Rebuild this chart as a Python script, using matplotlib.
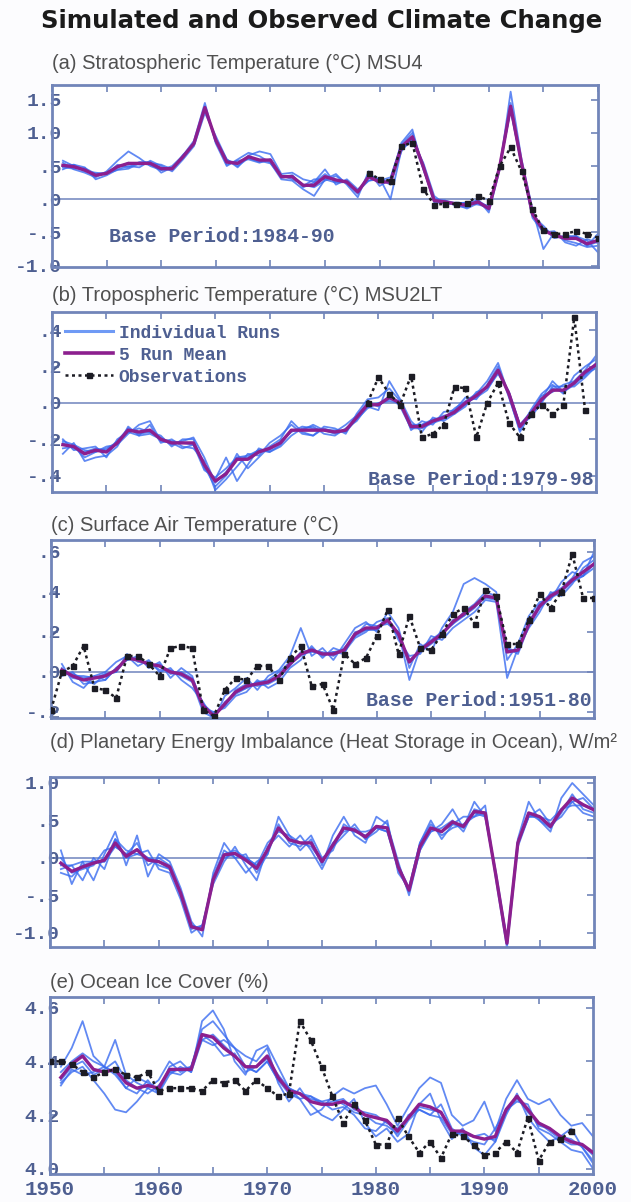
import numpy as np
import matplotlib
matplotlib.use("Agg")
import matplotlib.pyplot as plt
from matplotlib.lines import Line2D

# ---- model runs / mean start in 1951, observations carry their own start year ----
RUN_START = 1951

# (a) stratospheric temperature, MSU4
A_RUNS = [
    [.55, .45, .40, .33, .42, .58, .72, .62, .50, .44, .50, .66, .88, 1.45, .84, .50, .60, .70, .65, .55, .30, .28, .15, .05, .30, .38, .22, .03, .42, .20, .30, .85, 1.05, .45, .00, -.02, -.10, -.12, .00, -.20, .45, 1.62, .60, -.15, -.75, -.50, -.62, -.66, -.72, -.70],
    [.45, .52, .48, .30, .36, .45, .50, .48, .58, .50, .42, .60, .80, 1.30, .95, .60, .48, .66, .72, .68, .38, .40, .30, .26, .45, .22, .30, .15, .28, .32, .00, .75, .88, .55, .05, -.08, -.05, -.06, -.08, -.12, .52, 1.45, .50, -.25, -.40, -.58, -.55, -.56, -.62, -.80],
    [.58, .50, .42, .40, .38, .52, .48, .56, .56, .40, .48, .62, .86, 1.36, .90, .52, .58, .60, .55, .60, .36, .30, .22, .18, .28, .35, .24, .08, .38, .28, .33, .82, 1.00, .48, -.05, -.06, -.08, -.14, -.06, -.10, .50, 1.35, .52, -.28, -.50, -.48, -.65, -.70, -.60, -.66],
    [.48, .46, .47, .38, .40, .48, .55, .52, .54, .52, .45, .65, .84, 1.40, .86, .58, .55, .62, .56, .60, .32, .36, .18, .25, .38, .26, .28, .12, .35, .30, .22, .80, .90, .46, -.03, -.02, -.06, -.08, -.05, -.16, .48, 1.38, .55, -.20, -.45, -.56, -.58, -.55, -.70, -.64],
    [.50, .52, .43, .37, .39, .44, .46, .54, .52, .44, .45, .67, .82, 1.38, .90, .60, .50, .62, .58, .54, .34, .36, .20, .30, .30, .25, .26, .12, .28, .30, .25, .72, .95, .52, -.02, -.05, -.06, -.05, -.02, -.12, .50, 1.35, .52, -.22, -.45, -.58, -.56, -.57, -.70, -.52],
]
A_MEAN = [.51, .49, .44, .36, .39, .49, .54, .54, .54, .46, .46, .64, .84, 1.38, .89, .56, .54, .64, .59, .59, .34, .34, .21, .21, .34, .29, .26, .11, .34, .26, .26, .79, .94, .49, -.02, -.04, -.07, -.09, -.04, -.14, .49, 1.40, .54, -.22, -.47, -.54, -.59, -.59, -.67, -.62]
A_OBS_START = 1979
A_OBS = [.40, .30, .28, .80, .85, .15, -.08, -.07, -.07, -.06, .05, -.02, .50, .78, .42, -.15, -.47, -.52, -.52, -.48, -.52, -.58]

# (b) tropospheric temperature, MSU2LT
B_RUNS = [
    [-.28, -.22, -.32, -.30, -.29, -.24, -.13, -.18, -.12, -.22, -.20, -.24, -.25, -.32, -.48, -.42, -.35, -.28, -.29, -.22, -.18, -.12, -.17, -.18, -.13, -.14, -.17, -.06, .02, .03, .08, .01, -.15, -.10, -.12, -.05, -.04, .03, .02, .10, .20, .03, -.15, -.04, .05, .10, .05, .15, .20, .24],
    [-.20, -.26, -.25, -.24, -.30, -.20, -.16, -.14, -.16, -.18, -.24, -.20, -.20, -.36, -.42, -.30, -.43, -.34, -.25, -.27, -.24, -.18, -.14, -.13, -.17, -.18, -.14, -.10, -.02, -.04, .12, .02, -.10, -.16, -.08, -.10, -.06, -.02, .06, .08, .16, .06, -.12, -.08, .00, .09, .09, .09, .14, .20],
    [-.25, -.24, -.30, -.27, -.24, -.23, -.17, -.12, -.10, -.21, -.22, -.25, -.23, -.35, -.46, -.40, -.28, -.36, -.30, -.24, -.20, -.10, -.16, -.18, -.14, -.16, -.12, -.07, .00, -.02, .04, -.02, -.14, -.14, -.11, -.09, -.03, .01, .05, .12, .22, .04, -.16, -.06, .04, .06, .10, .12, .18, .26],
    [-.22, -.25, -.27, -.25, -.26, -.21, -.14, -.17, -.16, -.19, -.23, -.21, -.19, -.30, -.44, -.38, -.30, -.29, -.26, -.26, -.21, -.16, -.13, -.14, -.15, -.15, -.16, -.09, -.03, .00, .01, .00, -.12, -.12, -.10, -.07, -.06, .00, .03, .07, .17, .06, -.12, -.05, .02, .12, .06, .10, .16, .19],
    [-.21, -.23, -.26, -.27, -.25, -.22, -.16, -.18, -.17, -.20, -.21, -.22, -.23, -.37, -.41, -.36, -.30, -.30, -.26, -.27, -.23, -.15, -.15, -.12, -.15, -.17, -.15, -.08, -.01, -.01, .02, .01, -.13, -.12, -.09, -.08, -.05, -.01, .04, .09, .17, .05, -.12, -.07, .01, .08, .06, .11, .15, .22],
]
B_MEAN = [-.23, -.24, -.28, -.26, -.27, -.22, -.15, -.16, -.15, -.20, -.22, -.22, -.22, -.34, -.43, -.39, -.31, -.31, -.27, -.25, -.22, -.15, -.15, -.15, -.15, -.16, -.15, -.08, -.01, -.01, .03, .00, -.13, -.13, -.10, -.08, -.05, .00, .04, .09, .18, .05, -.13, -.06, .02, .07, .07, .11, .17, .21]
B_OBS_START = 1979
B_OBS = [.00, .14, .05, -.01, .15, -.19, -.17, -.12, .09, .08, -.19, .00, .11, -.11, -.19, -.06, -.01, -.06, -.01, .47, -.04]

# (c) surface air temperature
C_RUNS = [
    [.04, -.05, -.08, -.02, .00, .05, .08, .03, .06, .00, .02, -.04, -.08, -.15, -.24, -.12, -.08, -.03, -.09, -.02, .01, .08, .22, .08, .12, .06, .14, .22, .25, .20, .30, .22, .02, .14, .10, .22, .30, .44, .47, .44, .40, .06, .14, .28, .35, .36, .45, .50, .48, .60],
    [-.02, .00, -.06, -.05, -.04, .02, .06, .08, .02, .05, -.03, .02, -.02, -.18, -.20, -.18, -.12, -.10, -.04, -.08, -.05, .02, .06, .13, .07, .12, .10, .17, .20, .25, .27, .16, .08, .09, .18, .16, .22, .26, .30, .36, .35, -.03, .12, .22, .30, .40, .38, .44, .52, .56],
    [.02, -.03, -.04, -.06, -.01, .00, .09, .05, .05, .01, .01, -.02, -.05, -.20, -.23, -.15, -.11, -.08, -.05, -.04, .00, .05, .09, .10, .10, .08, .12, .18, .24, .23, .24, .20, -.04, .12, .16, .20, .24, .30, .34, .40, .38, .12, .10, .25, .34, .39, .42, .47, .55, .58],
    [.00, -.01, -.03, -.02, -.04, .02, .06, .07, .03, .04, -.01, .00, -.03, -.16, -.21, -.17, -.09, -.06, -.07, -.06, -.03, .04, .08, .12, .08, .10, .09, .20, .21, .22, .25, .18, .06, .10, .14, .18, .26, .28, .33, .37, .36, .12, .09, .23, .32, .37, .40, .45, .48, .52],
    [.01, -.02, -.02, -.03, -.01, .00, .07, .06, .04, .03, .00, -.01, -.04, -.16, -.22, -.16, -.10, -.08, -.05, -.05, -.02, .03, .10, .11, .09, .10, .11, .18, .21, .21, .26, .19, .05, .11, .15, .19, .24, .28, .32, .38, .37, .10, .11, .24, .33, .38, .41, .46, .48, .54],
]
C_MEAN = [.01, -.02, -.04, -.03, -.02, .01, .07, .06, .04, .03, .00, -.01, -.04, -.17, -.22, -.16, -.10, -.07, -.06, -.05, -.02, .04, .09, .11, .09, .09, .11, .19, .22, .22, .26, .19, .05, .11, .15, .19, .25, .29, .33, .38, .37, .10, .11, .24, .33, .38, .41, .46, .50, .54]
C_OBS_START = 1950
C_OBS = [-.19, .00, .03, .13, -.08, -.09, -.13, .08, .08, .04, -.02, .12, .13, .12, -.19, -.22, -.09, -.03, -.04, .03, .03, -.04, .07, .13, -.07, -.06, -.19, .09, .04, .07, .18, .31, .09, .28, .12, .11, .19, .29, .32, .24, .41, .38, .14, .14, .26, .39, .32, .40, .59, .37, .37]

# (d) planetary energy imbalance, W/m2
D_RUNS = [
    [.10, -.35, -.05, -.30, .05, .35, -.10, .30, -.25, .05, -.05, -.40, -.85, -1.05, -.20, .20, .00, -.20, -.05, .05, .55, .30, .10, .25, -.10, .30, .55, .30, .20, .55, .45, -.05, -.50, .10, .35, .45, .65, .40, .75, .55, -.20, -1.10, .25, .75, .50, .35, .80, 1.00, .85, .70],
    [-.15, -.10, -.30, .00, -.15, .25, .10, .05, .10, -.15, -.20, -.55, -1.00, -.90, -.35, -.05, .15, -.10, -.30, .15, .30, .15, .30, .10, -.15, .15, .30, .45, .25, .35, .50, -.20, -.40, .20, .50, .25, .45, .55, .55, .70, -.30, -1.20, .15, .55, .65, .45, .55, .75, .60, .55],
    [.00, -.20, -.15, -.10, .10, .15, .05, .20, -.10, .00, -.10, -.50, -.90, -.95, -.25, .10, .00, .05, -.20, .05, .45, .20, .15, .30, .00, .10, .45, .35, .35, .40, .35, -.15, -.45, .15, .35, .40, .50, .35, .65, .60, -.25, -1.15, .20, .55, .55, .50, .65, .75, .80, .65],
    [-.20, -.25, -.10, -.05, -.05, .25, .00, .05, .00, -.10, -.15, -.45, -.95, -.90, -.30, .05, .10, .00, -.10, .20, .35, .30, .20, .15, -.05, .20, .35, .40, .25, .40, .35, -.10, -.40, .20, .45, .30, .40, .45, .55, .60, -.25, -1.10, .20, .60, .50, .40, .60, .85, .65, .60],
    [-.10, -.10, -.05, -.05, -.05, .15, .05, .10, .00, -.05, -.15, -.45, -.90, -.95, -.30, .00, .05, .00, -.10, .10, .40, .25, .20, .20, -.05, .15, .40, .35, .30, .40, .40, -.10, -.45, .10, .40, .35, .45, .40, .60, .55, -.25, -1.15, .20, .55, .55, .40, .65, .70, .70, .65],
]
D_MEAN = [-.07, -.18, -.12, -.07, -.03, .20, .02, .11, -.03, -.05, -.12, -.47, -.92, -.96, -.29, .04, .06, -.03, -.14, .11, .40, .24, .20, .20, -.05, .17, .40, .37, .28, .42, .40, -.12, -.43, .15, .40, .35, .48, .42, .62, .60, -.25, -1.14, .20, .60, .55, .42, .64, .80, .71, .64]

# (e) ocean ice cover, %
E_RUNS = [
    [4.38, 4.45, 4.55, 4.42, 4.38, 4.48, 4.35, 4.32, 4.30, 4.28, 4.38, 4.40, 4.36, 4.55, 4.59, 4.52, 4.40, 4.35, 4.44, 4.46, 4.38, 4.30, 4.26, 4.20, 4.22, 4.27, 4.30, 4.28, 4.30, 4.31, 4.24, 4.16, 4.23, 4.30, 4.34, 4.32, 4.20, 4.16, 4.18, 4.25, 4.14, 4.26, 4.33, 4.26, 4.24, 4.26, 4.20, 4.16, 4.17, 4.12],
    [4.32, 4.36, 4.38, 4.33, 4.28, 4.22, 4.21, 4.25, 4.30, 4.33, 4.40, 4.36, 4.38, 4.52, 4.55, 4.50, 4.45, 4.42, 4.40, 4.45, 4.32, 4.25, 4.30, 4.24, 4.20, 4.18, 4.22, 4.26, 4.17, 4.12, 4.15, 4.10, 4.13, 4.24, 4.28, 4.18, 4.11, 4.15, 4.08, 4.05, 4.10, 4.20, 4.28, 4.19, 4.14, 4.10, 4.12, 4.15, 4.08, 4.02],
    [4.36, 4.40, 4.43, 4.40, 4.38, 4.35, 4.30, 4.28, 4.33, 4.28, 4.35, 4.38, 4.36, 4.48, 4.46, 4.48, 4.45, 4.38, 4.36, 4.40, 4.33, 4.28, 4.26, 4.27, 4.25, 4.22, 4.23, 4.20, 4.15, 4.14, 4.18, 4.12, 4.18, 4.22, 4.20, 4.24, 4.15, 4.12, 4.10, 4.09, 4.15, 4.22, 4.25, 4.24, 4.15, 4.13, 4.10, 4.07, 4.06, 4.00],
    [4.33, 4.38, 4.40, 4.35, 4.37, 4.40, 4.33, 4.30, 4.28, 4.31, 4.36, 4.35, 4.38, 4.50, 4.47, 4.42, 4.43, 4.36, 4.38, 4.41, 4.35, 4.30, 4.28, 4.26, 4.25, 4.26, 4.24, 4.21, 4.20, 4.17, 4.16, 4.13, 4.20, 4.22, 4.20, 4.19, 4.13, 4.14, 4.12, 4.13, 4.10, 4.22, 4.27, 4.21, 4.17, 4.14, 4.11, 4.09, 4.09, 4.05],
    [4.31, 4.37, 4.35, 4.36, 4.38, 4.36, 4.30, 4.34, 4.32, 4.29, 4.36, 4.37, 4.38, 4.48, 4.50, 4.46, 4.42, 4.38, 4.36, 4.40, 4.33, 4.30, 4.28, 4.27, 4.24, 4.25, 4.26, 4.22, 4.21, 4.20, 4.17, 4.15, 4.19, 4.23, 4.22, 4.21, 4.14, 4.13, 4.12, 4.11, 4.11, 4.21, 4.26, 4.22, 4.16, 4.15, 4.12, 4.11, 4.08, 4.03],
]
E_MEAN = [4.34, 4.39, 4.42, 4.37, 4.36, 4.37, 4.32, 4.30, 4.31, 4.30, 4.37, 4.37, 4.37, 4.50, 4.49, 4.45, 4.42, 4.38, 4.38, 4.42, 4.34, 4.29, 4.28, 4.25, 4.24, 4.24, 4.25, 4.23, 4.20, 4.19, 4.18, 4.14, 4.19, 4.24, 4.23, 4.21, 4.14, 4.14, 4.12, 4.11, 4.12, 4.22, 4.27, 4.22, 4.17, 4.15, 4.12, 4.10, 4.09, 4.06]
E_OBS_START = 1950
E_OBS = [4.40, 4.40, 4.39, 4.36, 4.34, 4.36, 4.37, 4.35, 4.34, 4.36, 4.29, 4.30, 4.30, 4.30, 4.29, 4.33, 4.32, 4.33, 4.29, 4.33, 4.30, 4.27, 4.28, 4.55, 4.48, 4.38, 4.27, 4.17, 4.24, 4.18, 4.09, 4.09, 4.19, 4.12, 4.06, 4.10, 4.04, 4.13, 4.12, 4.09, 4.05, 4.06, 4.10, 4.06, 4.19, 4.03, 4.10, 4.11, 4.14]

TITLES = [
    "(a) Stratospheric Temperature (°C) MSU4",
    "(b) Tropospheric Temperature (°C) MSU2LT",
    "(c) Surface Air Temperature (°C)",
    "(d) Planetary Energy Imbalance (Heat Storage in Ocean), W/m²",
    "(e) Ocean Ice Cover (%)",
]
YTICKS = [
    [1.5, 1.0, 0.5, 0.0, -0.5, -1.0],
    [0.4, 0.2, 0.0, -0.2, -0.4],
    [0.6, 0.4, 0.2, 0.0, -0.2],
    [1.0, 0.5, 0.0, -0.5, -1.0],
    [4.6, 4.4, 4.2, 4.0],
]
YTICKLABELS = [
    ["1.5", "1.0", ".5", ".0", "-.5", "-1.0"],
    [".4", ".2", ".0", "-.2", "-.4"],
    [".6", ".4", ".2", ".0", "-.2"],
    ["1.0", ".5", ".0", "-.5", "-1.0"],
    ["4.6", "4.4", "4.2", "4.0"],
]
YLIMS = [(-1.02, 1.72), (-0.49, 0.50), (-0.23, 0.66), (-1.19, 1.08), (3.98, 4.64)]
BASE_TEXT = ["Base Period:1984-90", "Base Period:1979-98", "Base Period:1951-80", None, None]
XTICKS = [1950, 1960, 1970, 1980, 1990, 2000]

RUN_C = "#3a6cf0"
MEAN_C = "#8c1f8e"
OBS_C = "#1c1c24"
FRAME_C = "#7185b9"
ZERO_C = "#8d9ecb"
LABEL_C = "#4e5f91"

W, H = 631, 1202
# axes boxes in pixels: left, right, top, bottom
BOXES = [(52, 598, 85, 267), (52, 596, 312, 492), (51, 594, 540, 718),
         (50, 594, 777, 947), (50, 593, 997, 1174)]
TITLE_Y = [63, 295, 525, 742, 982]
BASE_XY = [(0.105, 0.17, "left"), (0.995, 0.07, "right"), (0.995, 0.10, "right")]

MONO = ["Liberation Mono", "DejaVu Sans Mono"]


def yrs(start, vals):
    return np.arange(start, start + len(vals))


def main():
    fig = plt.figure(figsize=(W / 100, H / 100), dpi=100)
    fig.patch.set_facecolor("#fcfcfe")

    fig.text(322 / W, 1 - 21 / H, "Simulated and Observed Climate Change",
             ha="center", va="center", fontsize=17.6, fontweight="bold",
             family="DejaVu Sans", color="#1b1b1b")

    panels = [(A_RUNS, A_MEAN, A_OBS_START, A_OBS),
              (B_RUNS, B_MEAN, B_OBS_START, B_OBS),
              (C_RUNS, C_MEAN, C_OBS_START, C_OBS),
              (D_RUNS, D_MEAN, None, None),
              (E_RUNS, E_MEAN, E_OBS_START, E_OBS)]

    for i, (runs, mean, obs_start, obs) in enumerate(panels):
        l, r, t, b = BOXES[i]
        ax = fig.add_axes([l / W, 1 - b / H, (r - l) / W, (b - t) / H])
        ax.set_facecolor("white")

        if i != 4:
            ax.axhline(0, color=ZERO_C, lw=1.4, zorder=1)

        for run in runs:
            ax.plot(yrs(RUN_START, run), run, color=RUN_C, lw=1.3, alpha=0.8,
                    zorder=2)
        ax.plot(yrs(RUN_START, mean), mean, color=MEAN_C, lw=2.4, zorder=3)
        if obs is not None:
            ax.plot(yrs(obs_start, obs), obs, color=OBS_C, lw=1.8,
                    ls=(0, (1.2, 1.4)), marker="s", ms=3.6, mec=OBS_C,
                    zorder=4)

        ax.set_xlim(1950, 2000)
        ax.set_ylim(*YLIMS[i])
        ax.set_xticks(XTICKS)
        ax.set_xticks(np.arange(1955, 2000, 10), minor=True)
        ax.set_yticks(YTICKS[i])
        ax.set_yticklabels(YTICKLABELS[i])
        ax.tick_params(axis="both", which="both", direction="in", length=5,
                       width=1.2, color=FRAME_C, top=True, right=True)
        ax.tick_params(axis="y", pad=-7, labelsize=14, labelcolor=LABEL_C)
        for lab in ax.get_yticklabels():
            lab.set_family(MONO)
            lab.set_fontweight("bold")
        if i == 4:
            ax.tick_params(axis="x", pad=4, labelsize=15, labelcolor=LABEL_C)
            for lab in ax.get_xticklabels():
                lab.set_family(MONO)
                lab.set_fontweight("bold")
        else:
            ax.tick_params(axis="x", labelbottom=False)

        for sp in ax.spines.values():
            sp.set_color(FRAME_C)
            sp.set_linewidth(2.0)

        fig.text(l / W, 1 - TITLE_Y[i] / H, TITLES[i], ha="left", va="center",
                 fontsize=14.5, family="Liberation Sans", color="#505050")

        if BASE_TEXT[i]:
            bx, by, ha = BASE_XY[i]
            ax.text(bx, by, BASE_TEXT[i], transform=ax.transAxes, ha=ha,
                    va="center", fontsize=14.3, fontweight="bold",
                    family=MONO, color=LABEL_C, zorder=5)

        if i == 1:
            handles = [
                Line2D([], [], color="#6f9af5", lw=2.2),
                Line2D([], [], color=MEAN_C, lw=2.6),
                Line2D([], [], color=OBS_C, lw=1.8, ls=(0, (1.2, 1.4)),
                       marker="s", ms=3.6),
            ]
            leg = ax.legend(handles, ["Individual Runs", "5 Run Mean",
                                      "Observations"],
                            loc="upper left", frameon=False, handlelength=2.7,
                            handletextpad=0.3, labelspacing=0.28,
                            borderaxespad=0.3,
                            prop={"family": MONO, "weight": "bold",
                                  "size": 13})
            for txt in leg.get_texts():
                txt.set_color(LABEL_C)

    fig.savefig("out.png", dpi=100, facecolor=fig.get_facecolor())


if __name__ == "__main__":
    main()
